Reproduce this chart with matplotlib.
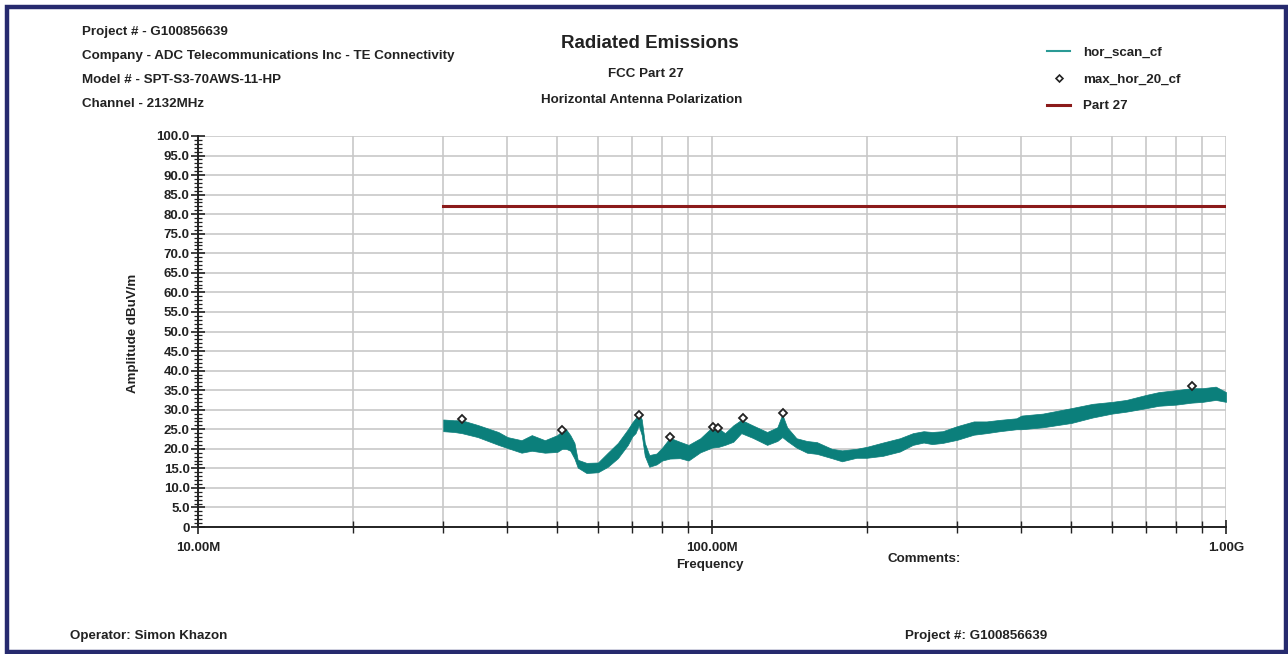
import matplotlib
matplotlib.use('Agg')
import matplotlib.pyplot as plt
from matplotlib.patches import Rectangle
from matplotlib.lines import Line2D
from matplotlib.ticker import FixedLocator, NullFormatter, FixedFormatter

plt.rcParams['font.family'] = ['Liberation Sans', 'DejaVu Sans']

# hor_scan_cf read as a noisy band: frequency (MHz), lower and upper edge (dBuV/m)
scan_freq = [30, 31.5, 32.6, 35, 38.4, 40, 42.6, 44.6, 47.3, 50, 51.1, 52, 53, 54, 54.8,
             57, 60, 62.7, 65.6, 68.6, 70, 71, 72, 73, 74, 75.5, 78, 80, 82.8, 86.6,
             90, 94.9, 100, 103, 106, 110, 114, 120, 128, 134, 137, 140, 146, 153, 160,
             171, 179, 191, 200, 215, 232, 246, 258, 268, 281, 300, 323, 342, 363, 391,
             400, 440, 500, 550, 600, 640, 700, 740, 800, 857, 900, 955, 1000]
scan_lo = [24.5, 24.3, 24.0, 23.0, 21.0, 20.2, 19.0, 19.5, 19.0, 19.2, 20.0, 20.0, 19.5, 17.5, 15.2,
           13.8, 14.0, 15.4, 17.6, 21.0, 23.2, 24.0, 26.0, 23.5, 18.2, 15.4, 16.0, 17.0, 17.5, 17.6,
           17.0, 19.1, 20.3, 20.5, 21.0, 21.8, 24.0, 22.8, 21.0, 22.0, 23.0, 22.0, 20.3, 19.0, 18.7,
           17.6, 16.8, 17.7, 17.7, 18.2, 19.3, 21.0, 21.6, 21.2, 21.5, 22.3, 23.6, 24.0, 24.5, 25.0,
           25.0, 25.5, 26.6, 28.0, 29.0, 29.5, 30.4, 31.0, 31.3, 31.8, 32.0, 32.5, 32.0]
scan_hi = [27.5, 27.3, 27.3, 26.1, 24.3, 23.0, 22.2, 23.5, 22.2, 23.5, 24.6, 25.0, 23.5, 21.5, 17.2,
           16.4, 16.5, 19.0, 21.5, 25.0, 26.8, 27.8, 29.2, 27.5, 21.5, 18.4, 18.8, 20.3, 22.8, 21.8,
           21.0, 22.7, 25.5, 25.2, 24.0, 26.0, 27.4, 26.0, 24.3, 25.5, 28.8, 25.5, 22.7, 22.0, 21.7,
           20.0, 19.6, 20.0, 20.5, 21.6, 22.7, 24.0, 24.5, 24.3, 24.5, 25.8, 27.0, 27.0, 27.4, 27.8,
           28.5, 29.0, 30.4, 31.5, 32.0, 32.5, 33.8, 34.5, 35.0, 35.5, 35.5, 35.9, 34.5]

# max_hor_20_cf markers
peak_freq = [32.6, 51.1, 72.1, 82.8, 100.3, 102.9, 115, 137.3, 857]
peak_amp = [27.6, 24.7, 28.6, 23.0, 25.6, 25.2, 27.8, 29.1, 36.1]

# Part 27 limit
limit_freq = [30, 1000]
limit_amp = [82.2, 82.2]

y_ticks = [0, 5, 10, 15, 20, 25, 30, 35, 40, 45, 50, 55, 60, 65, 70, 75, 80, 85, 90, 95, 100]
y_labels = ['0'] + ['%.1f' % v for v in y_ticks[1:]]
x_ticks = [10, 100, 1000]
x_labels = ['10.00M', '100.00M', '1.00G']

teal = '#0b7f7b'
darkred = '#8b1a1a'
navy = '#262a6e'

W, H = 1288, 654
fig = plt.figure(figsize=(W / 100, H / 100), dpi=100)
ax = fig.add_axes([198 / W, 1 - 527 / H, (1226 - 198) / W, (527 - 136) / H])

ax.fill_between(scan_freq, scan_lo, scan_hi, color=teal, lw=0.5)
ax.plot(peak_freq, peak_amp, ls='none', marker='D', ms=4, mfc='white', mec='#222222', mew=1.3)
ax.plot(limit_freq, limit_amp, color=darkred, lw=2.2)

ax.set_xscale('log')
ax.set_xlim(10, 1000)
ax.set_ylim(0, 100)

ax.xaxis.set_major_locator(FixedLocator(x_ticks))
ax.xaxis.set_major_formatter(FixedFormatter(x_labels))
ax.xaxis.set_minor_locator(FixedLocator([m * d for d in (10, 100) for m in range(2, 10)]))
ax.xaxis.set_minor_formatter(NullFormatter())
ax.yaxis.set_major_locator(FixedLocator(y_ticks))
ax.yaxis.set_major_formatter(FixedFormatter(y_labels))
ax.yaxis.set_minor_locator(FixedLocator(list(range(0, 101))))

ax.tick_params(axis='both', which='major', direction='inout', length=10, width=1.2,
               labelsize=9.5, color='#222222')
ax.tick_params(axis='y', which='major', pad=1)
ax.tick_params(axis='x', which='major', pad=6)
ax.tick_params(axis='y', which='minor', direction='inout', length=6, width=0.9, color='#222222')
ax.tick_params(axis='x', which='minor', direction='inout', length=8, width=1.0, color='#222222')
for lab in ax.get_xticklabels() + ax.get_yticklabels():
    lab.set_fontweight('bold')
    lab.set_color('#222222')

ax.grid(True, which='major', axis='y', color='#c8c8c8', lw=1.2)
ax.grid(True, which='both', axis='x', color='#c8c8c8', lw=1.2)
ax.set_axisbelow(True)
for s in ('top', 'right'):
    ax.spines[s].set_visible(False)
for s in ('left', 'bottom'):
    ax.spines[s].set_linewidth(1.4)
    ax.spines[s].set_color('#222222')

# header texts
kw = dict(fontsize=9.6, fontweight='bold', color='#222222', va='center')
for i, t in enumerate(['Project # - G100856639',
                       'Company - ADC Telecommunications Inc - TE Connectivity',
                       'Model # - SPT-S3-70AWS-11-HP',
                       'Channel - 2132MHz']):
    fig.text(82 / W, 1 - (32 + 24 * i) / H, t, ha='left', **kw)

fig.text(650 / W, 1 - 44 / H, 'Radiated Emissions', ha='center', va='center',
         fontsize=13.5, fontweight='bold', color='#222222')
fig.text(646 / W, 1 - 74 / H, 'FCC Part 27', ha='center', **kw)
fig.text(642 / W, 1 - 100 / H, 'Horizontal Antenna Polarization', ha='center', **kw)

fig.text(710 / W, 1 - 565 / H, 'Frequency', ha='center', **kw)
fig.text(888 / W, 1 - 559 / H, 'Comments:', ha='left', **kw)
fig.text(133 / W, 1 - 333 / H, 'Amplitude dBuV/m', ha='center', rotation=90, **kw)
fig.text(70 / W, 1 - 636 / H, 'Operator: Simon Khazon', ha='left', **kw)
fig.text(905 / W, 1 - 636 / H, 'Project #: G100856639', ha='left', **kw)

# legend
handles = [Line2D([], [], color='#2a9a95', lw=1.5),
           Line2D([], [], ls='none', marker='D', ms=3.5, mfc='white', mec='#222222', mew=1.2),
           Line2D([], [], color=darkred, lw=2.2)]
leg = fig.legend(handles, ['hor_scan_cf', 'max_hor_20_cf', 'Part 27'],
                 loc='upper left', bbox_to_anchor=(1047 / W, 1 - 46 / H),
                 frameon=False, fontsize=9.6, handlelength=1.75, handletextpad=0.95,
                 labelspacing=1.1, borderaxespad=0, borderpad=0)
for t in leg.get_texts():
    t.set_fontweight('bold')
    t.set_color('#222222')

# outer frame
fig.patches.append(Rectangle((6.5 / W, 2.5 / H), 1279 / W, 645 / H, transform=fig.transFigure,
                             fill=False, ec=navy, lw=3.2))

fig.savefig('out.png', dpi=100)
